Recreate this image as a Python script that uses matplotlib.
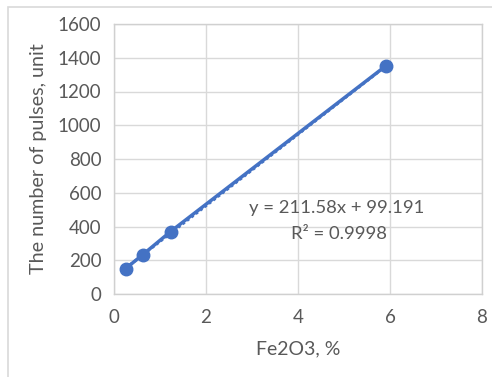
import matplotlib
matplotlib.use("Agg")
import matplotlib.pyplot as plt
import numpy as np
from matplotlib.patches import Rectangle

fe2o3 = [0.25, 0.62, 1.23, 5.91]
pulses = [150, 232, 370, 1352]
x_ticks = [0, 2, 4, 6, 8]
y_ticks = [0, 200, 400, 600, 800, 1000, 1200, 1400, 1600]
slope, intercept = 211.58, 99.191

plt.rcParams['font.family'] = ['Lato', 'DejaVu Sans']
W, H = 492, 377
fig = plt.figure(figsize=(W/100, H/100), dpi=100)
fig.patches.append(Rectangle((8/W, -0.1), 2, 1.1 - 7/H, transform=fig.transFigure,
                             fill=False, edgecolor='#d9d9d9', lw=1.2))
L, R, T, B = 114, 482, 24, 294
ax = fig.add_axes([L/W, 1 - B/H, (R-L)/W, (B-T)/H])
blue = '#4472c4'
gray = '#595959'
ax.plot(fe2o3, pulses, color=blue, lw=2.5, marker='o', ms=9, zorder=3)
xt = np.array([fe2o3[0], fe2o3[-1]])
ax.plot(xt, slope*xt + intercept, color=blue, lw=2, ls=(0, (1, 1)), zorder=2)
ax.set_xlim(0, 8)
ax.set_ylim(0, 1600)
ax.set_xticks(x_ticks)
ax.set_yticks(y_ticks)
ax.grid(True, color='#d9d9d9', lw=1)
ax.set_axisbelow(True)
for s in ax.spines.values():
    s.set_color('#d0d0d0')
    s.set_linewidth(1)
ax.tick_params(length=0, labelsize=13.5, colors=gray, pad=9)
ax.tick_params(axis='x', pad=11)
ax.set_xlabel('Fe2O3, %', fontsize=14, color=gray, labelpad=10)
ax.set_ylabel('The number of pulses, unit', fontsize=14.2, color=gray, labelpad=8)
ax.text(4.85, 510, 'y = 211.58x + 99.191', fontsize=13.3, color=gray, ha='center', va='center')
ax.text(4.9, 355, 'R² = 0.9998', fontsize=13.3, color=gray, ha='center', va='center')
fig.savefig('out.png', dpi=100)
